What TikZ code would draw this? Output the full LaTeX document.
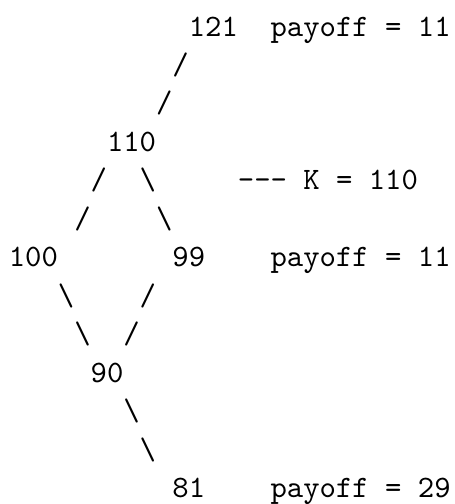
\documentclass[tikz,border=0pt]{standalone}
\begin{document}
\begin{tikzpicture}[tt/.style={anchor=base west,inner sep=0pt,outer sep=0pt,font=\ttfamily}]
\useasboundingbox (0,0) rectangle (145.7pt,-161.7pt);
\begin{scope}[x=5.25pt,y=-12.34pt,shift={(2.83pt,0.79pt)}]
% line 1
\node[tt] (n121) at (11,1) {121};
\node[tt] (p121) at (16,1) {payoff = 11};
% lines 2-3
\node[tt] (s1) at (10,2) {/};
\node[tt] (s2) at (9,3) {/};
% line 4
\node[tt] (n110) at (6,4) {110};
% line 5
\node[tt] (s3) at (5,5) {/};
\node[tt] (b1) at (8,5) {\textbackslash};
\node[tt] (strike) at (14,5) {-\kern0pt-\kern0pt- K = 110};
% line 6
\node[tt] (s4) at (4,6) {/};
\node[tt] (b2) at (9,6) {\textbackslash};
% line 7
\node[tt] (n100) at (0,7) {100};
\node[tt] (n99) at (10,7) {99};
\node[tt] (p99) at (16,7) {payoff = 11};
% line 8
\node[tt] (b3) at (3,8) {\textbackslash};
\node[tt] (s5) at (8,8) {/};
% line 9
\node[tt] (b4) at (4,9) {\textbackslash};
\node[tt] (s6) at (7,9) {/};
% line 10
\node[tt] (n90) at (5,10) {90};
% lines 11-12
\node[tt] (b5) at (7,11) {\textbackslash};
\node[tt] (b6) at (8,12) {\textbackslash};
% line 13
\node[tt] (n81) at (10,13) {81};
\node[tt] (p81) at (16,13) {payoff = 29};
\end{scope}
\end{tikzpicture}
\end{document}
